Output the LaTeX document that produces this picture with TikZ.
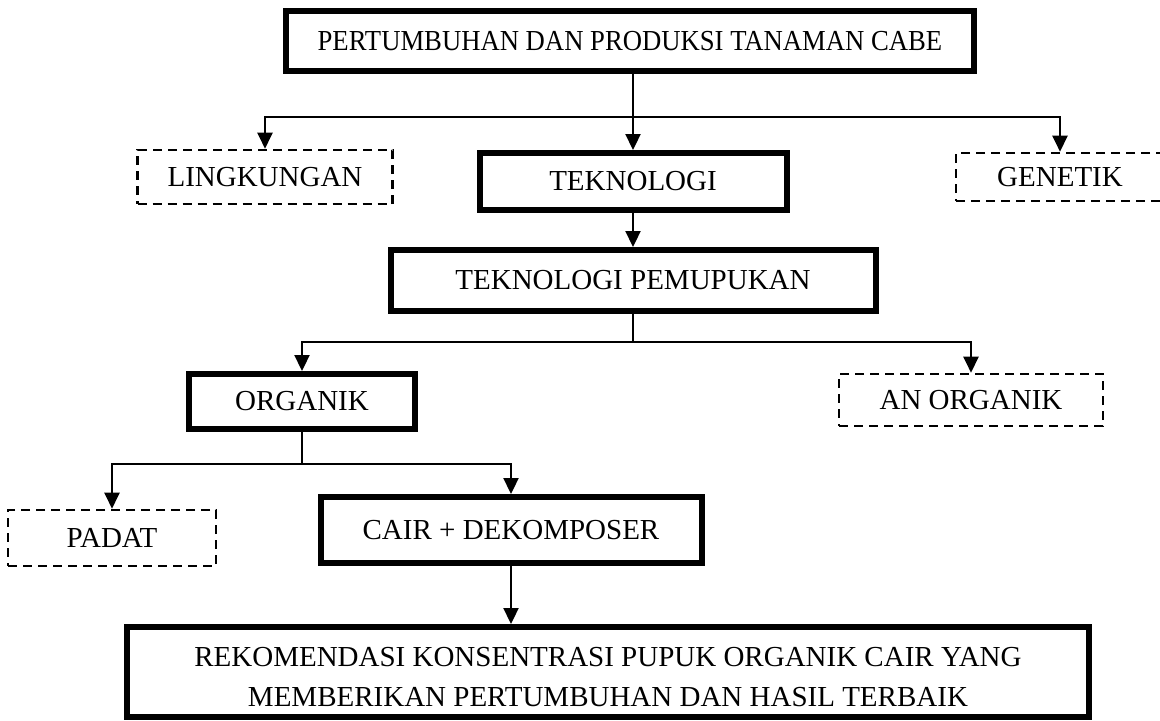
\documentclass[tikz,border=0pt]{standalone}
\usepackage{fontspec}
\setmainfont{Liberation Serif}
\newfontfamily\narrowfont[FakeStretch=0.92]{Liberation Serif}
\usetikzlibrary{arrows.meta}

\begin{document}
\begin{tikzpicture}[x=0.5pt,y=-0.5pt,
	thick_box/.style={rectangle,draw,line width=3pt,inner sep=0pt,font=\fontsize{14.5}{20}\selectfont},
	dash_box/.style={rectangle,draw,line width=1.3pt,dash pattern=on 4.5pt off 3pt,inner sep=0pt,font=\fontsize{14.5}{20}\selectfont},
	arrow_line/.style={line width=1.1pt,-{Triangle[length=8pt,width=7.5pt]}}]
		\clip (0,0) rectangle (1160,720);

		\node[thick_box,minimum width=344pt,minimum height=30pt] (1) at (630,41) {\narrowfont PERTUMBUHAN DAN PRODUKSI TANAMAN CABE};
		\node[dash_box,minimum width=127.5pt,minimum height=27pt] (2) at (265,177) {LINGKUNGAN};
		\node[thick_box,minimum width=153.5pt,minimum height=28.5pt] (3) at (633,181.5) {TEKNOLOGI};
		\node[dash_box,minimum width=104pt,minimum height=24pt] (4) at (1060,177) {GENETIK};
		\node[thick_box,minimum width=242.5pt,minimum height=30.5pt] (5) at (633,280.5) {TEKNOLOGI PEMUPUKAN};
		\node[thick_box,minimum width=113pt,minimum height=27.5pt] (6) at (302,401.5) {ORGANIK};
		\node[dash_box,minimum width=132pt,minimum height=26pt] (7) at (971,400) {AN ORGANIK};
		\node[dash_box,minimum width=104pt,minimum height=28pt] (8) at (112,538) {PADAT};
		\node[thick_box,minimum width=190.5pt,minimum height=33pt] (9) at (511,530) {CAIR + DEKOMPOSER};
		\node[thick_box,minimum width=481pt,minimum height=45pt,align=center] (10) at (608,672) {\rule{0pt}{14.6pt}REKOMENDASI KONSENTRASI PUPUK ORGANIK CAIR YANG\\MEMBERIKAN PERTUMBUHAN DAN HASIL TERBAIK};

		\coordinate (b1) at (633,117);
		\coordinate (b2) at (633,342);
		\coordinate (b3) at (302,464);

		\draw[line width=1.1pt] (b1 |- 1.south) -- (b1);
		\draw[arrow_line] (b1) -| (2);
		\draw[arrow_line] (b1) -- (3);
		\draw[arrow_line] (b1) -| (4);
		\draw[arrow_line] (3) -- (5);
		\draw[line width=1.1pt] (5) -- (b2);
		\draw[arrow_line] (b2) -| (6);
		\draw[arrow_line] (b2) -| (7);
		\draw[line width=1.1pt] (6) -- (b3);
		\draw[arrow_line] (b3) -| (8);
		\draw[arrow_line] (b3) -| (9);
		\draw[arrow_line] (9) -- (9 |- 10.north);
		\end{tikzpicture}
\end{document}
